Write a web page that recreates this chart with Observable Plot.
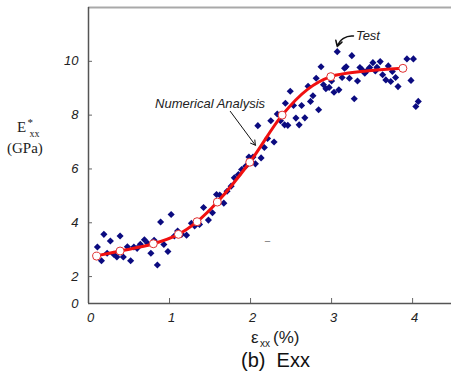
<!DOCTYPE html>
<html>
<head>
<meta charset="utf-8">
<script src="https://cdn.jsdelivr.net/npm/d3@7"></script>
<script src="https://cdn.jsdelivr.net/npm/@observablehq/plot@0.6"></script>
<style>
  body { margin: 0; background: #fff; }
  #chart svg { display: block; }
  #cap { margin-left: 241px; font-family: "Liberation Sans", Arial, sans-serif; font-size: 20px; line-height: 24px; color: #111; margin-top: -2px; white-space: pre; }
</style>
</head>
<body>
<div id="chart"></div>
<div id="cap">(b)  Exx</div>
<script>
// Test data (scatter, diamonds)
const testX = [0.11,0.16,0.19,0.23,0.27,0.31,0.35,0.39,0.43,0.48,0.52,0.56,0.60,0.64,0.69,0.73,0.77,0.81,0.85,0.89,0.93,0.98,1.02,1.06,1.10,1.15,1.21,1.27,1.31,1.37,1.42,1.48,1.53,1.58,1.62,1.67,1.71,1.76,1.80,1.85,1.89,1.94,1.98,2.03,2.06,2.09,2.13,2.17,2.21,2.25,2.29,2.33,2.37,2.42,2.43,2.46,2.49,2.53,2.56,2.60,2.63,2.67,2.71,2.74,2.77,2.81,2.84,2.87,2.90,2.93,2.97,3.00,3.03,3.07,3.09,3.13,3.16,3.18,3.22,3.25,3.28,3.32,3.35,3.38,3.41,3.44,3.47,3.51,3.54,3.56,3.60,3.63,3.67,3.70,3.73,3.75,3.79,3.82,3.93,3.98,4.01,4.04,4.07];
const testY = [3.10,2.59,3.57,2.87,3.32,2.83,2.73,3.51,2.73,3.11,2.59,3.10,3.05,3.20,3.37,3.24,2.87,3.35,2.43,4.03,3.19,2.93,4.31,3.51,3.69,3.57,3.54,3.98,3.88,3.94,4.57,4.10,4.37,5.05,5.03,4.73,5.17,5.36,5.67,5.79,5.98,6.10,6.44,6.44,6.19,7.61,6.41,6.80,7.13,7.79,7.00,8.04,7.79,7.64,8.44,7.62,8.89,8.36,7.89,7.64,8.36,7.90,9.07,8.51,8.72,9.37,8.20,9.80,9.13,8.98,9.03,9.27,8.85,10.36,8.94,9.40,9.74,9.80,9.37,10.21,8.61,9.27,9.77,9.68,9.56,9.66,9.77,9.95,9.64,9.78,9.99,9.50,9.31,9.83,9.25,9.62,9.40,9.06,10.09,9.29,10.09,8.32,8.51];

// Numerical analysis curve (line points) and its markers
const curveX = [0.08,0.39,0.80,1.11,1.34,1.59,1.99,2.39,2.70,2.99,3.40,3.88];
const curveY = [2.76,2.95,3.22,3.57,4.04,4.77,6.25,8.00,8.95,9.43,9.63,9.74];
const markerX = [0.10,0.39,0.80,1.11,1.34,1.59,1.99,2.39,2.99,3.88];
const markerY = [2.76,2.95,3.22,3.57,4.04,4.77,6.25,8.00,9.43,9.74];

// Axis ticks
const xTicks = [0,1,2,3,4];
const yTicks = [2,4,6,8,10];
const yLabelTicks = [1,2,4,6,8,10];
const yTickLabels = ["0","2","4","6","8","10"];

// Annotations
const annLabels = ["Numerical Analysis","Test"];
const annTextX = [1.50,3.30];
const annTextY = [8.41,10.94];
const annArrowX1 = [1.75,3.27];
const annArrowY1 = [8.14,10.94];
const annArrowX2 = [2.06,3.07];
const annArrowY2 = [6.88,10.55];
const strayMark = {x: 2.21, y: 3.30, text: "−"};

const pts = testX.map((x,i)=>({x, y: testY[i]}));
const curve = curveX.map((x,i)=>({x, y: curveY[i]}));
const markers = markerX.map((x,i)=>({x, y: markerY[i]}));
const ann = annLabels.map((t,i)=>({t, x: annTextX[i], y: annTextY[i], x1: annArrowX1[i], y1: annArrowY1[i], x2: annArrowX2[i], y2: annArrowY2[i]}));

const W = 451, H = 350, ML = 88, MT = 7, MB = 47;
const frameH = H - MT - MB, frameW = W - ML;

const chart = Plot.plot({
  width: W, height: H,
  marginLeft: ML, marginRight: 0, marginTop: MT, marginBottom: MB,
  x: {domain: [0, 4.48]},
  y: {domain: [1, 12]},
  style: {fontFamily: "'Liberation Sans', Arial, sans-serif", background: "white", color: "#222"},
  marks: [
    Plot.ruleY([12], {stroke: "#a9a9a9", strokeWidth: 2}),
    Plot.tickX(xTicks.slice(1), {x: d => d, stroke: "#666", insetTop: frameH - 5}),
    Plot.tickY(yTicks, {y: d => d, stroke: "#666", insetRight: frameW - 4}),
    Plot.ruleX([0], {stroke: "#555", strokeWidth: 1.5}),
    Plot.ruleY([1], {stroke: "#555", strokeWidth: 1.5}),
    Plot.axisX(xTicks, {tickSize: 0, tickPadding: 9, fontSize: 13, fontStyle: "italic", dx: 2, label: null}),
    Plot.axisY(yLabelTicks, {tickSize: 0, tickPadding: 10, fontSize: 13, fontStyle: "italic", label: null,
      tickFormat: d => yTickLabels[yLabelTicks.indexOf(d)]}),
    Plot.text([strayMark], {x: "x", y: "y", text: "text", fill: "#777", fontSize: 11}),
    Plot.dot(pts, {x: "x", y: "y", symbol: "diamond2", r: 3.2, fill: "#0b0b80", stroke: "none"}),
    Plot.line(curve, {x: "x", y: "y", stroke: "#f01010", strokeWidth: 3, curve: "catmull-rom"}),
    Plot.dot(markers, {x: "x", y: "y", r: 4, fill: "white", stroke: "#e03030", strokeWidth: 1}),
    Plot.arrow([ann[0]], {x1: "x1", y1: "y1", x2: "x2", y2: "y2", stroke: "#111", strokeWidth: 1, headLength: 8}),
    Plot.arrow([ann[1]], {x1: "x1", y1: "y1", x2: "x2", y2: "y2", stroke: "#111", strokeWidth: 1.5, headLength: 7, bend: -40}),
    Plot.text([ann[0]], {x: "x", y: "y", text: "t", fontSize: 13, fontStyle: "italic", textAnchor: "middle", fill: "#222"}),
    Plot.text([ann[1]], {x: "x", y: "y", text: "t", fontSize: 13, fontStyle: "italic", textAnchor: "start", fill: "#222"})
  ]
});

const svg = d3.select(chart);
const lab = (x, y, size, txt, fam) => svg.append("text").attr("x", x).attr("y", y)
  .attr("text-anchor", "start").attr("font-family", fam).attr("font-size", size).attr("fill", "#222").text(txt);
// y-axis label: E*xx (GPa)
const serif = "'Liberation Serif', 'Times New Roman', serif";
lab(17, 131.5, 15, "E", serif);
lab(27.5, 125.5, 11, "*", serif);
lab(29.5, 137, 10, "xx", serif);
lab(7, 153, 15, "(GPa)", serif);
// x-axis label: εxx (%)
const sans = "'Liberation Sans', Arial, sans-serif";
lab(251, 343, 17, "ε", sans);
lab(260, 347, 10, "xx", sans);
lab(273, 343, 17, "(%)", sans);

document.getElementById("chart").appendChild(chart);
</script>
</body>
</html>
